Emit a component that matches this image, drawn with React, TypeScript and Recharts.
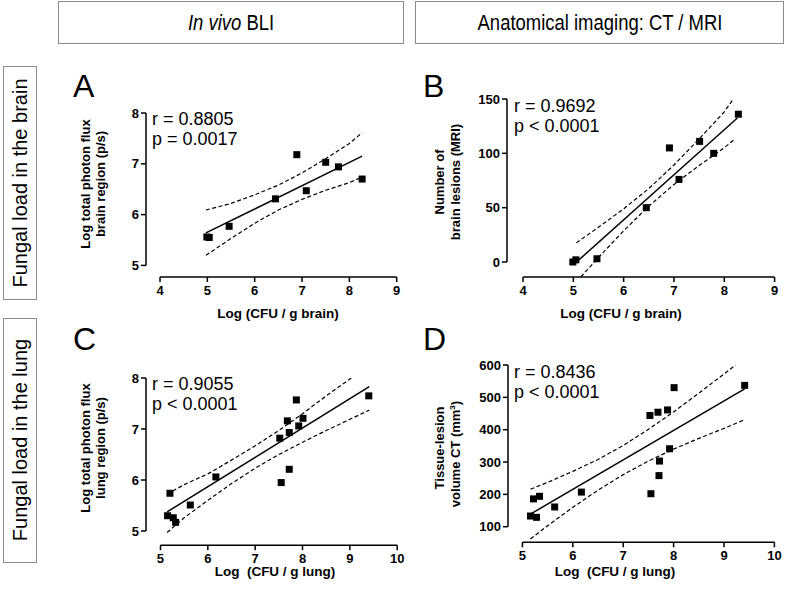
import { ScatterChart, Scatter, XAxis, YAxis, ReferenceLine } from "recharts";

// Panel A: BLI brain vs CFU brain
const axA = [4.99, 5.04, 5.46, 6.44, 6.89, 7.09, 7.5, 7.77, 8.27];
const ayA = [5.56, 5.55, 5.77, 6.31, 7.18, 6.47, 7.03, 6.94, 6.7];
const fitXA = [4.97, 8.27];
const fitYA = [5.64, 7.15];
const bandXA = [4.97, 5.5, 6.0, 6.5, 7.0, 7.5, 8.0, 8.27];
const upYA = [6.09, 6.22, 6.39, 6.58, 6.82, 7.1, 7.4, 7.61];
const loYA = [5.2, 5.53, 5.83, 6.09, 6.3, 6.48, 6.63, 6.74];

// Panel B: MRI lesions vs CFU brain
const axB = [4.99, 5.05, 5.47, 6.45, 6.91, 7.1, 7.51, 7.79, 8.28];
const ayB = [0, 2, 3, 50, 105, 76, 111, 100, 136];
const fitXB = [5.04, 8.26];
const fitYB = [-1, 132.5];
const upXB = [5.06, 5.5, 6.0, 6.5, 7.0, 7.5, 8.0, 8.18];
const upYB = [17.6, 32, 48.9, 67.6, 89.3, 113.2, 138.2, 150];
const loXB = [5.15, 5.5, 6.0, 6.5, 7.0, 7.5, 8.0, 8.22];
const loYB = [-13.8, 4.2, 28.7, 51.4, 71.3, 88.8, 105.2, 113.5];

// Panel C: BLI lung vs CFU lung
const axC = [5.15, 5.27, 5.32, 5.2, 5.63, 6.17, 7.52, 7.68, 7.72, 7.87, 7.92, 8.01, 7.55, 7.72, 9.4];
const ayC = [5.3, 5.26, 5.17, 5.74, 5.51, 6.06, 6.82, 7.16, 6.93, 7.57, 7.06, 7.21, 5.95, 6.21, 7.65];
const fitXC = [5.14, 9.41];
const fitYC = [5.375, 7.83];
const upXC = [5.14, 5.5, 6.0, 6.5, 7.0, 7.5, 8.0, 8.5, 9.03];
const upYC = [5.72, 5.91, 6.12, 6.39, 6.67, 6.97, 7.3, 7.65, 8.0];
const loXC = [5.14, 5.5, 6.0, 6.5, 7.0, 7.5, 8.0, 8.5, 9.0, 9.41];
const loYC = [4.97, 5.26, 5.6, 5.93, 6.23, 6.5, 6.74, 6.97, 7.19, 7.37];

// Panel D: CT lesion volume vs CFU lung
const axD = [5.16, 5.28, 5.22, 5.34, 5.64, 6.17, 7.53, 7.69, 7.88, 8.01, 7.92, 7.72, 7.71, 7.55, 9.41];
const ayD = [133, 129, 186, 194, 161, 207, 444, 454, 461, 530, 341, 303, 258, 202, 537];
const fitXD = [5.16, 9.41];
const fitYD = [139, 526];
const upXD = [5.16, 5.5, 6.0, 6.5, 7.0, 7.5, 8.0, 8.5, 9.0, 9.23];
const upYD = [216, 237, 271, 308, 351, 401, 455, 513, 572, 600];
const loXD = [5.16, 5.5, 6.0, 6.5, 7.0, 7.5, 8.0, 8.5, 9.0, 9.41];
const loYD = [62, 103, 160, 213, 261, 303, 340, 373, 404, 431];

const ticksX1 = [4, 5, 6, 7, 8, 9];
const ticksX2 = [5, 6, 7, 8, 9, 10];
const ticksYA = [5, 6, 7, 8];
const ticksYB = [0, 50, 100, 150];
const ticksYD = [100, 200, 300, 400, 500, 600];

const FONT = "'Liberation Sans', Arial, Helvetica, sans-serif";

type Pt = { x: number; y: number };
const zip = (xs: number[], ys: number[]): Pt[] => xs.map((x, i) => ({ x, y: ys[i] }));

const Square = (p: any) => (
  <rect x={p.cx - 3.5} y={p.cy - 3.5} width={7} height={7} fill="#000" />
);
const NoDot = () => <g />;

const TickX = (p: any) => (
  <text x={p.x} y={p.y} dy="0.71em" textAnchor="middle" fontSize={13} fontWeight="bold" fontFamily={FONT} fill="#000">
    {p.payload.value}
  </text>
);
const TickY = (p: any) => (
  <text x={p.x} y={p.y} dy="0.36em" textAnchor="end" fontSize={13} fontWeight="bold" fontFamily={FONT} fill="#000">
    {p.payload.value}
  </text>
);

type PanelProps = {
  box: [number, number, number, number];
  xDomain: [number, number];
  yDomain: [number, number];
  xTicks: number[];
  yTicks: number[];
  xGap: number;
  pts: Pt[];
  fit: Pt[];
  upper: Pt[];
  lower: Pt[];
};

function Panel({ box, xDomain, yDomain, xTicks, yTicks, xGap, pts, fit, upper, lower }: PanelProps) {
  const [l, t, r, b] = box;
  const dash = { stroke: "#000", strokeWidth: 1.2, strokeDasharray: "4 2.5" };
  return (
    <div style={{ position: "absolute", left: l - 60, top: t - 10 }}>
      <ScatterChart width={r - l + 70} height={b - t + 50} margin={{ top: 10, right: 10, bottom: 10, left: 10 }}>
        <XAxis
          type="number" dataKey="x" domain={xDomain} ticks={xTicks} allowDataOverflow interval={0}
          axisLine={false} tickLine={{ stroke: "#000", strokeWidth: 1.5 }} tickSize={5} tickMargin={xGap}
          height={30} tick={TickX}
        />
        <YAxis
          type="number" dataKey="y" domain={yDomain} ticks={yTicks} allowDataOverflow interval={0}
          axisLine={false} tickLine={{ stroke: "#000", strokeWidth: 1.5 }} tickSize={5} tickMargin={2}
          width={50} tick={TickY}
        />
        <ReferenceLine
          segment={[{ x: xDomain[0], y: yTicks[0] }, { x: xDomain[0], y: yTicks[yTicks.length - 1] }]}
          stroke="#000" strokeWidth={1.5} ifOverflow="visible"
        />
        <ReferenceLine
          segment={[{ x: xTicks[0], y: yDomain[0] }, { x: xTicks[xTicks.length - 1], y: yDomain[0] }]}
          stroke="#000" strokeWidth={1.5} ifOverflow="visible"
        />
        <Scatter data={upper} line={dash} shape={NoDot} isAnimationActive={false} />
        <Scatter data={lower} line={dash} shape={NoDot} isAnimationActive={false} />
        <Scatter data={fit} line={{ stroke: "#000", strokeWidth: 1.5 }} shape={NoDot} isAnimationActive={false} />
        <Scatter data={pts} shape={Square} isAnimationActive={false} />
      </ScatterChart>
    </div>
  );
}

function VLabel({ x, y, text, size, bold }: { x: number; y: number; text: string; size: number; bold?: boolean }) {
  return (
    <text
      transform={`translate(${x},${y}) rotate(-90)`}
      y={size * 0.35}
      textAnchor="middle"
      fontSize={size}
      fontWeight={bold ? "bold" : "normal"}
      fontFamily={FONT}
      fill="#000"
    >
      {text}
    </text>
  );
}

function Overlay() {
  const stat = { fontSize: 18, fontFamily: FONT, fill: "#000" };
  const letter = { fontSize: 32, fontFamily: FONT, fill: "#000" };
  const xl = { fontSize: 13.5, fontFamily: FONT, fontWeight: "bold", fill: "#000", textAnchor: "middle" as const, style: { whiteSpace: "pre" as const } };
  return (
    <svg width={792} height={589} style={{ position: "absolute", left: 0, top: 0, pointerEvents: "none" }}>
      <rect x={58.5} y={1.5} width={345} height={42} fill="none" stroke="#8a8a8a" />
      <rect x={415.5} y={1.5} width={368} height={42} fill="none" stroke="#8a8a8a" />
      <text transform="translate(231,30) scale(0.84,1)" textAnchor="middle" fontSize={22} fontFamily={FONT} fill="#000">
        <tspan fontStyle="italic">In vivo</tspan> BLI
      </text>
      <text transform="translate(600,30) scale(0.84,1)" textAnchor="middle" fontSize={22} fontFamily={FONT} fill="#000">
        Anatomical imaging: CT / MRI
      </text>

      <rect x={3.5} y={66.5} width={33} height={233} fill="none" stroke="#8a8a8a" />
      <rect x={3.5} y={318.5} width={33} height={244} fill="none" stroke="#8a8a8a" />
      <VLabel x={20} y={183} text="Fungal load in the brain" size={20} />
      <VLabel x={20} y={440} text="Fungal load in the lung" size={20} />

      <text x={73} y={97} {...letter}>A</text>
      <text x={423} y={97} {...letter}>B</text>
      <text x={73} y={350} {...letter}>C</text>
      <text x={423} y={350} {...letter}>D</text>

      <text x={152} y={125} {...stat}>r = 0.8805</text>
      <text x={152} y={145} {...stat}>p = 0.0017</text>
      <text x={514} y={112} {...stat}>r = 0.9692</text>
      <text x={514} y={132} {...stat}>p &lt; 0.0001</text>
      <text x={152} y={390} {...stat}>r = 0.9055</text>
      <text x={152} y={410} {...stat}>p &lt; 0.0001</text>
      <text x={514} y={378} {...stat}>r = 0.8436</text>
      <text x={514} y={398} {...stat}>p &lt; 0.0001</text>

      <VLabel x={85} y={184} text="Log total photon flux" size={13} bold />
      <VLabel x={100} y={184} text="brain region (p/s)" size={13} bold />
      <VLabel x={439} y={182} text="Number of" size={13} bold />
      <VLabel x={455} y={182} text="brain lesions (MRI)" size={13} bold />
      <VLabel x={85} y={448} text="Log total photon flux" size={13} bold />
      <VLabel x={100} y={448} text="lung region (p/s)" size={13} bold />
      <VLabel x={439} y={448} text="Tissue-lesion" size={13} bold />
      <text
        transform="translate(455,454) rotate(-90)" y={4.5} textAnchor="middle"
        fontSize={13} fontWeight="bold" fontFamily={FONT} fill="#000"
      >
        volume CT (mm<tspan fontSize={8} dy={-5}>3</tspan><tspan dy={5}>)</tspan>
      </text>

      <text x={278} y={318} {...xl}>Log (CFU / g brain)</text>
      <text x={621} y={318} {...xl}>Log (CFU / g brain)</text>
      <text x={275} y={576} {...xl}>Log  (CFU / g lung)</text>
      <text x={615} y={576} {...xl}>Log  (CFU / g lung)</text>
    </svg>
  );
}

export default function App() {
  return (
    <div style={{ position: "absolute", left: 0, top: 0, width: 792, height: 589, background: "#fff" }}>
      <Panel
        box={[146, 113.3, 396.7, 277.3]} xDomain={[3.704, 9]} yDomain={[4.772, 8]}
        xTicks={ticksX1} yTicks={ticksYA} xGap={4}
        pts={zip(axA, ayA)} fit={zip(fitXA, fitYA)} upper={zip(bandXA, upYA)} lower={zip(bandXA, loYA)}
      />
      <Panel
        box={[506.7, 99.3, 774.3, 277.3]} xDomain={[3.682, 9]} yDomain={[-13.8, 150]}
        xTicks={ticksX1} yTicks={ticksYB} xGap={4}
        pts={zip(axB, ayB)} fit={zip(fitXB, fitYB)} upper={zip(upXB, upYB)} lower={zip(loXB, loYB)}
      />
      <Panel
        box={[145.5, 377.7, 396.7, 545]} xDomain={[4.694, 10]} yDomain={[4.72, 8]}
        xTicks={ticksX2} yTicks={ticksYA} xGap={3}
        pts={zip(axC, ayC)} fit={zip(fitXC, fitYC)} upper={zip(upXC, upYC)} lower={zip(loXC, loYC)}
      />
      <Panel
        box={[508.3, 365, 774.7, 542.3]} xDomain={[4.714, 10]} yDomain={[51.8, 600]}
        xTicks={ticksX2} yTicks={ticksYD} xGap={3}
        pts={zip(axD, ayD)} fit={zip(fitXD, fitYD)} upper={zip(upXD, upYD)} lower={zip(loXD, loYD)}
      />
      <Overlay />
    </div>
  );
}
